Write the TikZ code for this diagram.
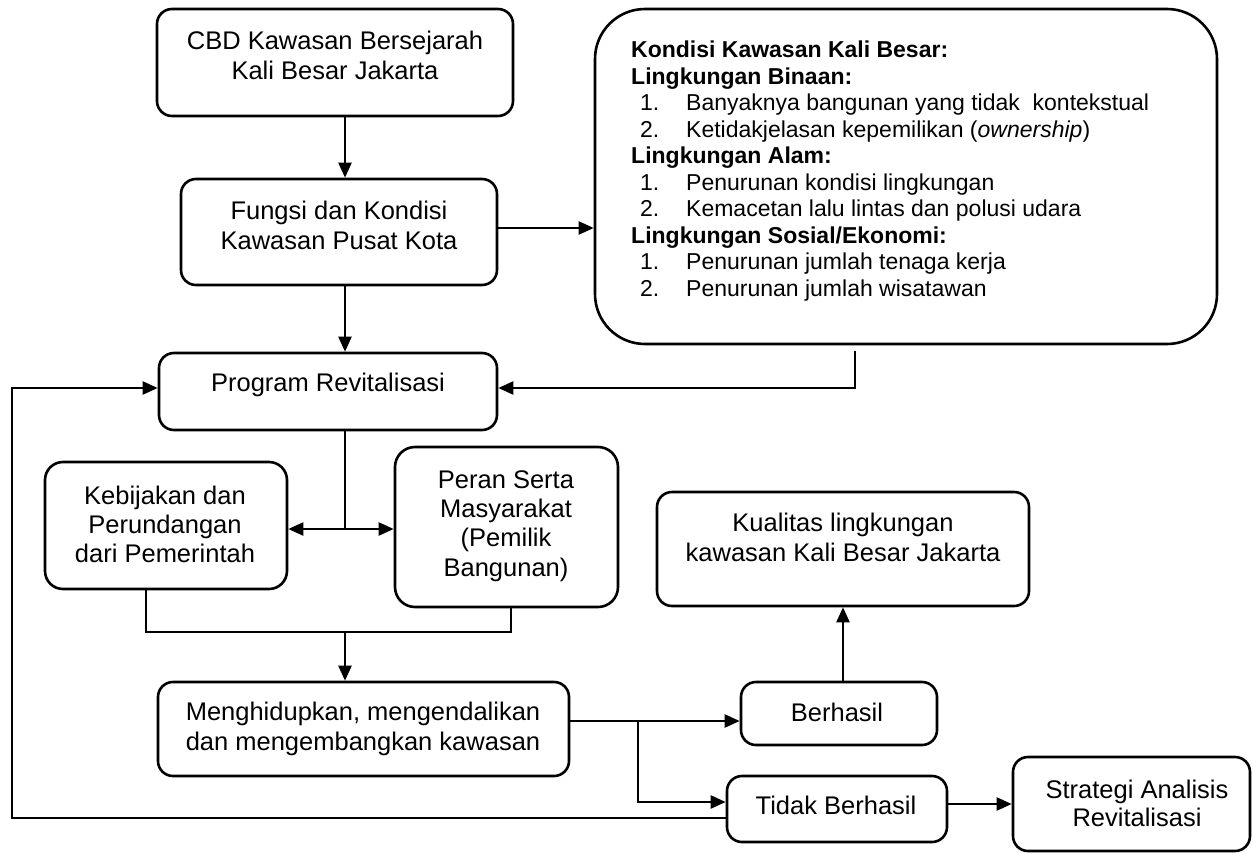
\documentclass[tikz,border=0pt]{standalone}
\usepackage{fontspec}
\setmainfont{Liberation Sans}
\usetikzlibrary{arrows.meta,calc}
\begin{document}
\begin{tikzpicture}[x=1pt,y=-1pt,
  box/.style={draw, line width=2.6pt, rounded corners=15pt, inner sep=0pt},
  txt/.style={align=center, inner sep=0pt, font=\fontsize{25.5}{30}\selectfont},
  arr/.style={line width=2.3pt, line join=miter, -{Triangle[length=15pt,width=13pt]}},
  darr/.style={line width=2.3pt, {Triangle[length=15pt,width=13pt]}-{Triangle[length=15pt,width=13pt]}},
  ln/.style={line width=2.3pt, line join=miter},
]
\useasboundingbox (0,0) rectangle (1253,854);

% boxes
\node[box, minimum width=356pt, minimum height=107pt] (cbd) at (335,62.5) {};
\node[box, minimum width=316pt, minimum height=106pt] (fungsi) at (339,232) {};
\node[box, rounded corners=50pt, minimum width=622pt, minimum height=335pt] (big) at (906,176.5) {};
\node[box, minimum width=338pt, minimum height=77pt] (program) at (328,391.5) {};
\node[box, rounded corners=18pt, minimum width=242pt, minimum height=127pt] (kebijakan) at (166,525.5) {};
\node[box, rounded corners=20pt, minimum width=223pt, minimum height=160pt] (peran) at (506.5,527) {};
\node[box, minimum width=411pt, minimum height=94pt] (mengh) at (363.5,729) {};
\node[box, minimum width=372pt, minimum height=114pt] (kualitas) at (843,549) {};
\node[box, minimum width=196pt, minimum height=63pt] (berhasil) at (839,713.5) {};
\node[box, minimum width=220pt, minimum height=66pt] (tidak) at (837,809) {};
\node[box, minimum width=237pt, minimum height=94pt] (strategi) at (1131.5,804) {};

% texts
\node[txt] (cbdt) at (335,55) {CBD Kawasan Bersejarah\\Kali Besar Jakarta};
\node[txt] (fungsit) at (339,225) {Fungsi dan Kondisi\\Kawasan Pusat Kota};
\node[txt] (programt) at (328,384.5) {Program Revitalisasi};
\node[txt, font=\fontsize{25.5}{29}\selectfont] (kebijakant) at (165,524) {Kebijakan dan\\Perundangan\\dari Pemerintah};
\node[txt, font=\fontsize{25.5}{29.3}\selectfont] (perant) at (506,526) {Peran Serta\\Masyarakat\\(Pemilik\\Bangunan)};
\node[txt] (menght) at (363,729) {Menghidupkan, mengendalikan\\dan mengembangkan kawasan};
\node[txt] (kualitast) at (843,537.5) {Kualitas lingkungan\\kawasan Kali Besar Jakarta};
\node[txt] (berhasilt) at (837,712) {Berhasil};
\node[txt] (tidakt) at (836,805) {Tidak Berhasil};
\node[txt, font=\fontsize{25.5}{28}\selectfont] (strategit) at (1137,803) {Strategi Analisis\\Revitalisasi};

\node[anchor=north west, align=left, inner sep=0pt, font=\fontsize{23}{26.5}\selectfont] (bigt) at (631,41) {%
\textbf{Kondisi Kawasan Kali Besar:}\\
\textbf{Lingkungan Binaan:}\\
\hspace*{9pt}\makebox[46pt][l]{1.}Banyaknya bangunan yang tidak\ \ kontekstual\\
\hspace*{9pt}\makebox[46pt][l]{2.}Ketidakjelasan kepemilikan (\textit{ownership})\\
\textbf{Lingkungan Alam:}\\
\hspace*{9pt}\makebox[46pt][l]{1.}Penurunan kondisi lingkungan\\
\hspace*{9pt}\makebox[46pt][l]{2.}Kemacetan lalu lintas dan polusi udara\\
\textbf{Lingkungan Sosial/Ekonomi:}\\
\hspace*{9pt}\makebox[46pt][l]{1.}Penurunan jumlah tenaga kerja\\
\hspace*{9pt}\makebox[46pt][l]{2.}Penurunan jumlah wisatawan};

% helper coordinates
\coordinate (colA) at (345,0);
\coordinate (colB) at (855,0);
\coordinate (colK) at (146,0);
\coordinate (colP) at (511,0);
\coordinate (colS) at (638,0);
\coordinate (colC) at (843,0);
\coordinate (colL) at (12,0);
\coordinate (rowP) at (0,388);
\coordinate (rowD) at (0,529);
\coordinate (rowJ) at (0,632);
\coordinate (rowM) at (0,721);
\coordinate (rowT) at (0,802);
\coordinate (rowF) at (0,818);

% connectors
\draw[arr] (cbd.south -| colA) -- (fungsi.north -| colA);
\draw[arr] (fungsi.east |- 0,228) -- (big.west |- 0,228);
\draw[arr] (fungsi.south -| colA) -- (program.north -| colA);
\draw[arr] ([yshift=-6pt]big.south -| colB) -- (colB |- rowP) -- (program.east |- rowP);
\draw[ln] (program.south -| colA) -- (colA |- rowD);
\draw[darr] (kebijakan.east |- rowD) -- (peran.west |- rowD);
\draw[ln] (kebijakan.south -| colK) -- (colK |- rowJ) -- (colP |- rowJ) -- (peran.south -| colP);
\draw[arr] (colA |- rowJ) -- (mengh.north -| colA);
\draw[arr] (mengh.east |- rowM) -- (berhasil.west |- rowM);
\draw[arr] (colS |- rowM) -- (colS |- rowT) -- (tidak.west |- rowT);
\draw[arr] (berhasil.north -| colC) -- (kualitas.south -| colC);
\draw[arr] (tidak.east |- strategi.west) -- (strategi.west);
\draw[arr] (tidak.west |- rowF) -- (colL |- rowF) -- (colL |- rowP) -- (program.west |- rowP);
\end{tikzpicture}
\end{document}
